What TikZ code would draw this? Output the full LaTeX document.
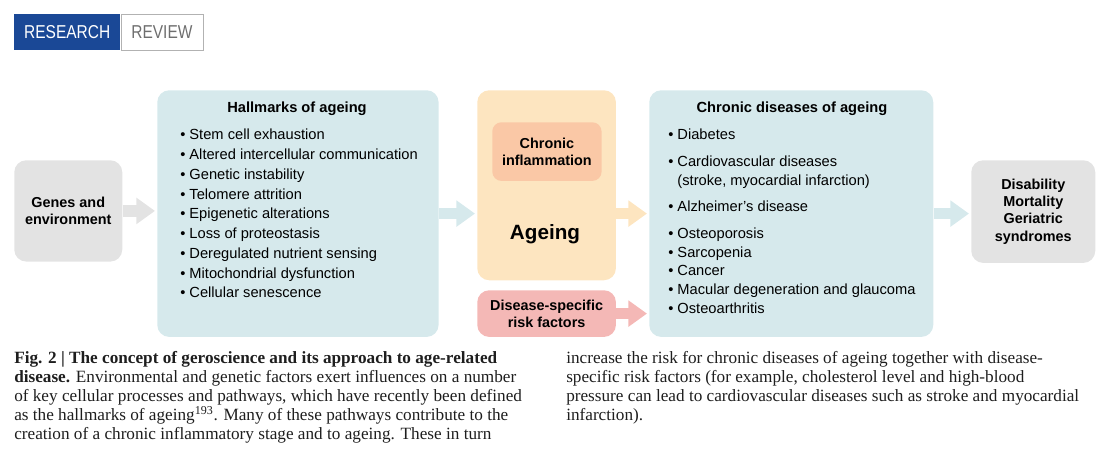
\documentclass[tikz,border=0pt]{standalone}
\usepackage{fontspec}
\setmainfont{Liberation Serif}
\setsansfont{Liberation Sans}
\newfontfamily\headfont[FakeStretch=0.83]{Liberation Sans}
\usepackage{xcolor}
\usetikzlibrary{arrows.meta,positioning}
\definecolor{natblue}{RGB}{26,72,150}
\definecolor{headgray}{RGB}{110,110,110}
\definecolor{boxgray}{RGB}{227,227,227}
\definecolor{boxblue}{RGB}{214,233,236}
\definecolor{boxpeach}{RGB}{253,229,192}
\definecolor{boxsalmon}{RGB}{250,200,166}
\definecolor{boxpink}{RGB}{244,184,182}
\definecolor{captext}{RGB}{30,30,30}

\begin{document}
\begin{tikzpicture}[x=0.75pt,y=-0.75pt,
  panel/.style={rounded corners=9pt,inner sep=0pt,anchor=north west,
                font=\sffamily\bfseries\fontsize{10.8}{13}\selectfont,align=center},
  title/.style={font=\sffamily\bfseries\fontsize{11}{13}\selectfont,anchor=base,inner sep=0pt},
  items/.style={font=\sffamily\fontsize{11}{#1}\selectfont,align=left,
                anchor=north west,inner sep=0pt},
  items/.default={14.8pt},
  caption/.style={font=\fontsize{12.9}{14.3}\selectfont,text=captext,align=left,
                  anchor=north west,inner sep=0pt},
  flow/.style={draw=#1,line width=8.5pt,-{Triangle[length=14pt,width=19pt]},shorten >=1.5pt}
]
\useasboundingbox (0,0) rectangle (1110,459);

\node[fill=natblue,text=white,minimum width=79.5pt,minimum height=27pt,inner sep=0pt,
  anchor=north west,font=\headfont\fontsize{14}{15}\selectfont] (research) at (14,14) {RESEARCH};
\node[draw=gray!60,line width=0.6pt,text=headgray,minimum width=61.5pt,minimum height=27pt,
  inner sep=0pt,font=\headfont\fontsize{14}{15}\selectfont,right=0pt of research] (review) {REVIEW};

\node[panel,fill=boxgray,minimum width=81pt,minimum height=76pt] (genes) at (14,160)
  {Genes and\\environment};
\node[panel,fill=boxblue,minimum width=211pt,minimum height=185pt] (hall) at (157,90) {};
\node[panel,fill=boxpeach,minimum width=104pt,minimum height=142.5pt] (age) at (477,90) {};
\node[panel,fill=boxsalmon,rounded corners=7pt,minimum width=82pt,minimum height=44pt] (inflam) at (492,122)
  {Chronic\\inflammation};
\node[font=\sffamily\bfseries\fontsize{15.5}{17}\selectfont,inner sep=0pt] (ageing) at (545,234) {Ageing};
\node[panel,fill=boxpink,minimum width=104pt,minimum height=35pt] (risk) at (477,290)
  {Disease-specific\\risk factors};
\node[panel,fill=boxblue,minimum width=213pt,minimum height=185pt] (chron) at (649,90) {};
\node[panel,fill=boxgray,minimum width=93pt,minimum height=77pt] (dis) at (971,160)
  {Disability\\Mortality\\Geriatric\\syndromes};

\node[title] (halltitle) at (297,113) {Hallmarks of ageing};
\node[items] (hallitems) at (180,129) {\textbullet\ Stem cell exhaustion\\
  \textbullet\ Altered intercellular communication\\
  \textbullet\ Genetic instability\\
  \textbullet\ Telomere attrition\\
  \textbullet\ Epigenetic alterations\\
  \textbullet\ Loss of proteostasis\\
  \textbullet\ Deregulated nutrient sensing\\
  \textbullet\ Mitochondrial dysfunction\\
  \textbullet\ Cellular senescence};

\node[title] (chrontitle) at (792,113) {Chronic diseases of ageing};
\node[items=14pt] (chronitems) at (668,129) {\textbullet\ Diabetes\\[6pt]
  \textbullet\ Cardiovascular diseases\\
  \hphantom{\textbullet\ }(stroke, myocardial infarction)\\[6pt]
  \textbullet\ Alzheimer’s disease\\[6pt]
  \textbullet\ Osteoporosis\\
  \textbullet\ Sarcopenia\\
  \textbullet\ Cancer\\
  \textbullet\ Macular degeneration and glaucoma\\
  \textbullet\ Osteoarthritis};

\draw[flow=boxgray] (genes.east) -- (genes.east -| hall.west);
\draw[flow=boxblue] (hall.east) -- (hall.east -| age.west);
\draw[flow=boxpeach] (hall.east -| age.east) -- (hall.east -| chron.west);
\draw[flow=boxpink] (risk.east) -- (risk.east -| chron.west);
\draw[flow=boxblue] (chron.east) -- (chron.east -| dis.west);

\node[caption] (capleft) at (14,351) {\textbf{Fig. 2 | The concept of geroscience and its approach to age-related}\\
  \textbf{disease.} Environmental and genetic factors exert influences on a number\\
  of key cellular processes and pathways, which have recently been defined\\
  as the hallmarks of ageing\textsuperscript{193}. Many of these pathways contribute to the\\
  creation of a chronic inflammatory stage and to ageing. These in turn};
\node[caption] (capright) at (566,351) {increase the risk for chronic diseases of ageing together with disease-\\
  specific risk factors (for example, cholesterol level and high-blood\\
  pressure can lead to cardiovascular diseases such as stroke and myocardial\\
  infarction).};
\end{tikzpicture}
\end{document}
